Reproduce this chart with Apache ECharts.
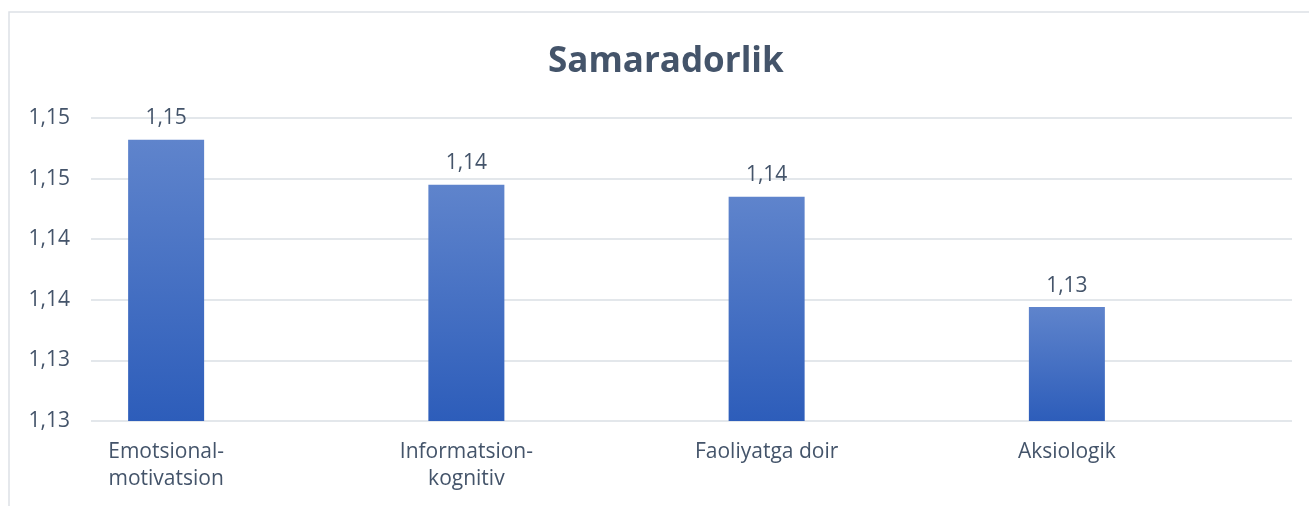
<!DOCTYPE html>
<html>
<head>
<meta charset="utf-8">
<script src="https://cdn.jsdelivr.net/npm/echarts@6/dist/echarts.min.js"></script>
<style>
  html, body { margin: 0; padding: 0; background: #ffffff; }
  #chart { width: 1309px; height: 506px; }
</style>
</head>
<body>
<div id="chart"></div>
<script>
// data
const categories = ['Emotsional-\nmotivatsion', 'Informatsion-\nkognitiv', 'Faoliyatga doir', 'Aksiologik']
const samaradorlik = [1.1482, 1.1445, 1.1435, 1.1344]
const yTickLabels = ['1,13', '1,13', '1,14', '1,14', '1,15', '1,15']

const textColor = '#44546a'
const gridColor = '#dadfe5'
const fontFamily = '"Open Sans", "Noto Sans", sans-serif'

const chart = echarts.init(document.getElementById('chart'))

const option = {
  animation: false,
  backgroundColor: '#ffffff',
  title: {
    text: 'Samaradorlik',
    left: 543,
    top: 40,
    textStyle: {
      fontFamily: fontFamily,
      fontSize: 35,
      fontWeight: 'bold',
      color: textColor
    }
  },
  // chart frame
  graphic: [{
    type: 'rect',
    shape: { x: 9, y: 12, width: 1400, height: 600 },
    style: { fill: 'none', stroke: '#dde1e6', lineWidth: 1.5 },
    silent: true
  }],
  grid: [
    // gridlines + y labels
    { left: 91, right: 17, top: 118, bottom: 85 },
    // bars
    { left: 16, right: 92, top: 118, bottom: 85 }
  ],
  xAxis: [
    {
      gridIndex: 0,
      type: 'category',
      data: categories,
      show: false
    },
    {
      gridIndex: 1,
      type: 'category',
      data: categories,
      axisLine: { show: false },
      axisTick: { show: false },
      axisLabel: {
        margin: 18,
        interval: 0,
        lineHeight: 27,
        fontFamily: fontFamily,
        fontSize: 21,
        color: textColor
      }
    }
  ],
  yAxis: [
    {
      gridIndex: 0,
      type: 'value',
      min: 1.125,
      max: 1.15,
      interval: 0.005,
      axisLine: { show: false },
      axisTick: { show: false },
      splitLine: { lineStyle: { color: gridColor, width: 1.5 } },
      axisLabel: {
        margin: 21,
        fontFamily: fontFamily,
        fontSize: 21,
        color: textColor,
        formatter(value, index) {
          return yTickLabels[index]
        }
      }
    },
    {
      gridIndex: 1,
      type: 'value',
      min: 1.125,
      max: 1.15,
      interval: 0.005,
      show: false,
      splitLine: { show: false }
    }
  ],
  series: [
    {
      name: 'Samaradorlik',
      type: 'bar',
      xAxisIndex: 1,
      yAxisIndex: 1,
      data: samaradorlik,
      barWidth: 76,
      itemStyle: {
        color: new echarts.graphic.LinearGradient(0, 0, 0, 1, [
          { offset: 0, color: '#5f84cc' },
          { offset: 1, color: '#2d5dba' }
        ])
      },
      label: {
        show: true,
        position: 'top',
        distance: 11,
        fontFamily: fontFamily,
        fontSize: 21,
        color: textColor,
        formatter(params) {
          return params.value.toFixed(2).replace('.', ',')
        }
      }
    }
  ]
}

chart.setOption(option)
</script>
</body>
</html>
